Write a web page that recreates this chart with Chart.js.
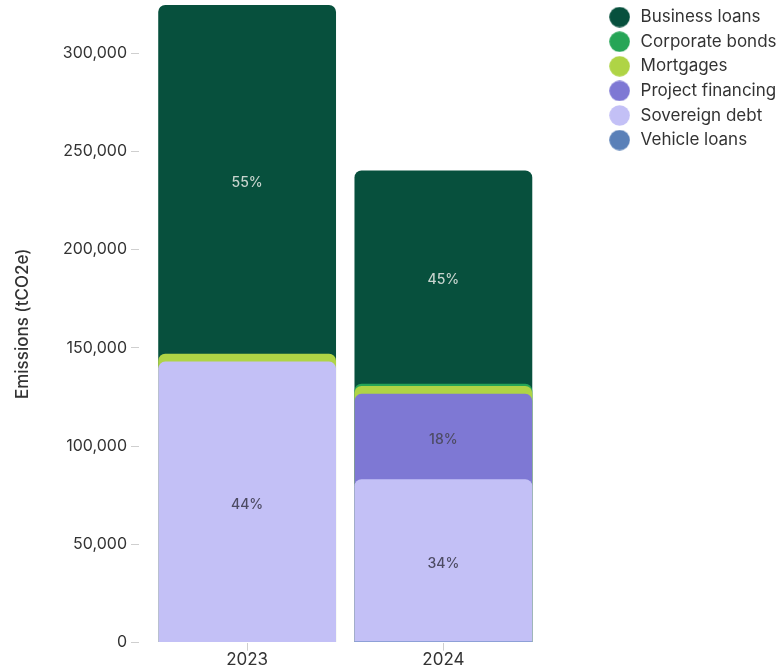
<!DOCTYPE html>
<html>
<head>
<meta charset="utf-8">
<script src="https://cdn.jsdelivr.net/npm/chart.js@4.4.1/dist/chart.umd.min.js"></script>
<style>
  html, body { margin: 0; padding: 0; background: #fff; }
  #wrap { width: 779px; height: 669px; position: relative; }
</style>
</head>
<body>
<div id="wrap"><canvas id="chartEmisiones"></canvas></div>
<script>
// Financed emissions by asset class (tCO2e)
const years = ["2023", "2024"];
const businessLoans = [177500, 108500];
const corporateBonds = [0, 1200];
const mortgages = [4000, 4000];
const projectFinancing = [0, 43500];
const sovereignDebt = [143000, 82500];
const vehicleLoans = [0, 600];
const yTicks = [0, 50000, 100000, 150000, 200000, 250000, 300000];

// legend order (top to bottom)
const series = [
  { label: "Business loans", values: businessLoans },
  { label: "Corporate bonds", values: corporateBonds },
  { label: "Mortgages", values: mortgages },
  { label: "Project financing", values: projectFinancing },
  { label: "Sovereign debt", values: sovereignDebt },
  { label: "Vehicle loans", values: vehicleLoans },
];

const colors = ["#07503d", "#26a556", "#afd445", "#7e78d4", "#c3c0f6", "#5a80b8"];
const labelColors = ["#c6d3cd", "#4d4b63", "#4d4b63", "#4d4b63", "#4d4b63", "#4d4b63"];

// stacking runs bottom-up: Vehicle loans first, Business loans last
const totals = years.map((_, j) => series.reduce((s, d) => s + d.values[j], 0));
const cumulative = series.map((_, i) =>
  years.map((_, j) => series.slice(i).reduce((s, d) => s + d.values[j], 0))
);

// round legend markers
function dot(color) {
  const c = document.createElement("canvas");
  c.width = 21; c.height = 21;
  const g = c.getContext("2d");
  g.fillStyle = color;
  g.beginPath();
  g.arc(10.5, 10.5, 10.3, 0, Math.PI * 2);
  g.fill();
  return c;
}

// percentage of the year's total, centred in each segment
const segmentLabels = {
  id: "segmentLabels",
  afterDatasetsDraw(chart) {
    const { ctx } = chart;
    const y = chart.scales.y;
    ctx.save();
    ctx.font = "500 14px Inter";
    ctx.textAlign = "center";
    ctx.textBaseline = "middle";
    series.forEach((s, i) => {
      chart.getDatasetMeta(i).data.forEach((bar, j) => {
        const v = s.values[j];
        const pct = (v / totals[j]) * 100;
        if (!v || pct < 5) return;
        const top = y.getPixelForValue(cumulative[i][j]);
        const bottom = y.getPixelForValue(cumulative[i][j] - v);
        ctx.fillStyle = labelColors[i];
        ctx.fillText(Math.round(pct) + "%", bar.x, (top + bottom) / 2 + 3);
      });
    });
    ctx.restore();
  },
};

// push the legend away from the plot
const legendOffset = {
  id: "legendOffset",
  afterLayout(chart) {
    const lg = chart.legend;
    lg.left += 58; lg.right += 58;
    lg.top -= 4; lg.bottom -= 4;
  },
};

const ctx = document.getElementById("chartEmisiones");
new Chart(ctx, {
  type: "bar",
  data: {
    labels: years,
    datasets: series.map((s, i) => ({
      label: s.label,
      data: cumulative[i].map((c, j) => (s.values[j] ? c : null)),
      backgroundColor: colors[i],
      borderWidth: 0,
      borderRadius: 7,
      pointStyle: dot(colors[i]),
      order: series.length - 1 - i,
      grouped: false,
      categoryPercentage: 1,
      barPercentage: 0.906,
    })),
  },
  options: {
    responsive: true,
    maintainAspectRatio: false,
    animation: false,
    layout: { padding: { top: 5, left: 0, right: 57, bottom: 0 } },
    plugins: {
      tooltip: { enabled: false },
      legend: {
        position: "right",
        align: "start",
        labels: {
          usePointStyle: true,
          pointStyleWidth: 25,
          boxHeight: 17,
          padding: 7.6,
          color: "#333",
          font: { family: "Inter", size: 17 },
          sort: (a, b) => a.datasetIndex - b.datasetIndex,
        },
      },
    },
    scales: {
      x: {
        offset: true,
        border: { display: false },
        grid: { offset: false, drawOnChartArea: false, tickLength: 8, color: "#cfcfcf" },
        ticks: { color: "#333", padding: -1, font: { family: "Inter", size: 17 } },
      },
      y: {
        min: 0,
        max: Math.max(...totals),
        border: { display: false },
        grid: {
          drawOnChartArea: false,
          tickLength: 18,
          tickBorderDash: [8, 100],
          color: "#cfcfcf",
        },
        afterBuildTicks(scale) {
          scale.ticks = yTicks.map((v) => ({ value: v }));
        },
        ticks: {
          padding: 4,
          color: "#333",
          font: { family: "Inter", size: 16 },
        },
        title: {
          display: true,
          text: "Emissions (tCO2e)",
          color: "#333",
          padding: { top: 13, bottom: 0 },
          font: { family: "Inter", size: 17, weight: "500" },
        },
        afterFit(scale) {
          scale.width = 149;
          scale.paddingTop = 0;
        },
      },
    },
  },
  plugins: [segmentLabels, legendOffset],
});
</script>
</body>
</html>
